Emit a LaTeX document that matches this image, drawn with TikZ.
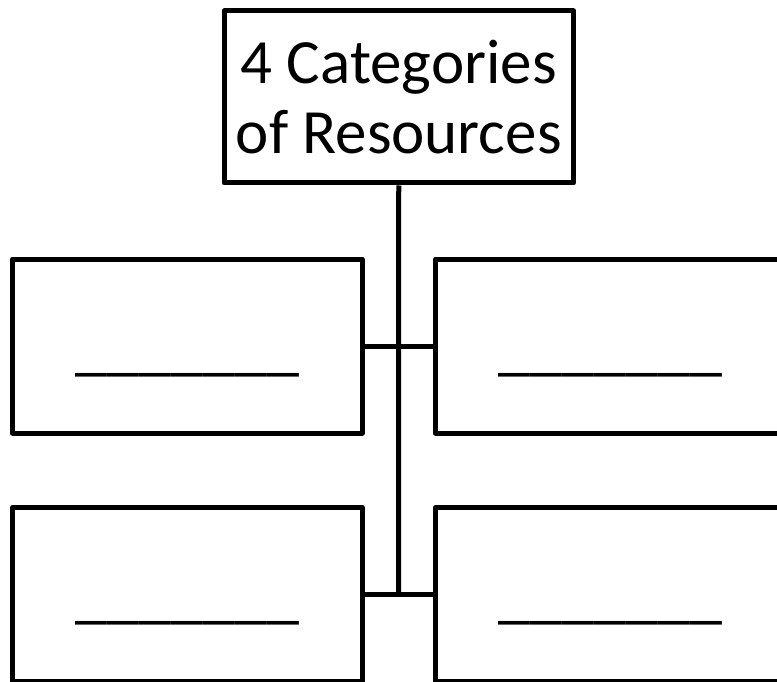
\documentclass[tikz,border=0pt]{standalone}
\usepackage{fontspec}
\setmainfont{Carlito}
\begin{document}
\begin{tikzpicture}[x=1pt,y=-1pt,
  frame/.style={draw=black,line width=5pt,line join=round,inner sep=0pt,
    minimum width=349.5pt},
  blank/.style={inner sep=0pt,anchor=base,font=\fontsize{64}{64}\selectfont},
  link/.style={draw=black,line width=5pt}]
\useasboundingbox (0,0) rectangle (777,682);
\clip (0,0) rectangle (777,682);
% heading box
\node[frame,minimum height=172pt,align=center,
  font=\fontsize{63}{69.5}\selectfont] (title) at (398.75,97)
  {4 Categories\\of Resources};
% four category boxes
\node[frame,minimum height=174pt] (ul) at (187.25,346) {};
\node[frame,minimum height=174pt] (ur) at (610.25,346) {};
\node[frame,minimum height=174pt] (ll) at (187.25,594.5) {};
\node[frame,minimum height=174pt] (lr) at (610.25,594.5) {};
% blanks to fill in
\node[blank] (bul) at (187.5,368) {\_\_\_\_\_\_\_};
\node[blank] (bur) at (610.5,368) {\_\_\_\_\_\_\_};
\node[blank] (bll) at (187.5,616.5) {\_\_\_\_\_\_\_};
\node[blank] (blr) at (610.5,616.5) {\_\_\_\_\_\_\_};
% trunk and branches
\coordinate (trunkend) at (398.5,595.5);
\draw[link] (title.south) -- (trunkend);
\draw[link] (ul.east) -- (ur.west);
\draw[link] (ll.east) -- (lr.west);
\end{tikzpicture}
\end{document}
